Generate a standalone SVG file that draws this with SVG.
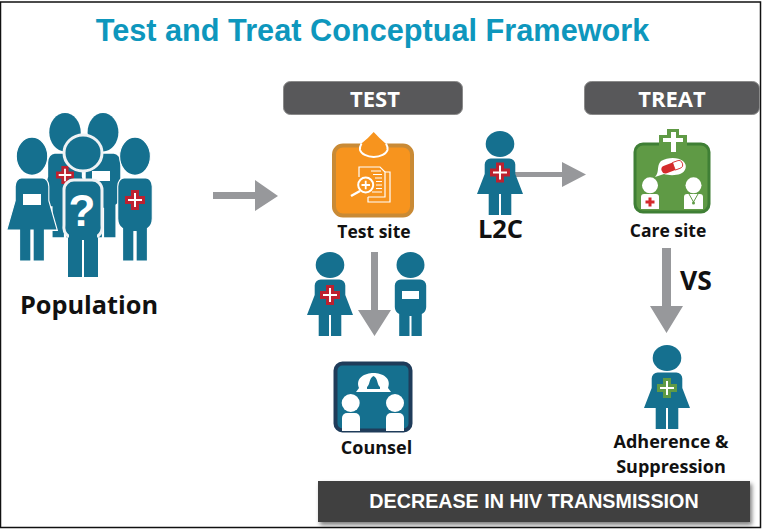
<svg xmlns="http://www.w3.org/2000/svg" xmlns:xlink="http://www.w3.org/1999/xlink" width="763" height="529" viewBox="0 0 763 529">
<style>
.lab{font-family:"Open Sans","Noto Sans",sans-serif;font-weight:700;fill:#111;text-anchor:middle}
.hd{font-family:"Open Sans","Noto Sans",sans-serif;font-weight:700;fill:#fff;text-anchor:middle;font-size:22px}
.pill{fill:#58585a;stroke:#8a8a8a;stroke-width:1}
.arr{fill:#97989b}
.pp{fill:#15708f}
.red{fill:#bd2130}
.wh{fill:#fff}
.wl{stroke:#fff;fill:none}
</style>
<defs>
<filter id="sh" x="-5%" y="-20%" width="110%" height="140%"><feDropShadow dx="2" dy="3" stdDeviation="2" flood-color="#000" flood-opacity=".5"/></filter>
<g id="woman">
<ellipse cx="0" cy="13" rx="14.300" ry="13"/>
<path d="M-15.300 33.500a6 6 0 0 1 6-6h18.600a6 6 0 0 1 6 6V43L23 63H11.300V84H1V63H-1V84H-11.300V63H-23L-15.300 43Z"/>
</g>
<g id="man">
<ellipse cx="0" cy="13" rx="14" ry="13"/>
<path d="M-15.700 33.500a6 6 0 0 1 6-6h19.400a6 6 0 0 1 6 6V55a8 8 0 0 1-4.400 7V84H1V64H-1V84H-11.300V62a8 8 0 0 1-4.400-7Z"/>
</g>
<g id="cross"><path class="red" d="M-4-10H4V-4H10V4H4V10H-4V4H-10V-4H-4Z"/><path class="wh" d="M-1-7H1V-1H7V1H1V7H-1V1H-7V-1H-1Z"/></g>
<g id="gcross"><path fill="#5f9a45" d="M-4-10H4V-4H10V4H4V10H-4V4H-10V-4H-4Z"/><path class="wh" d="M-1-7H1V-1H7V1H1V7H-1V1H-7V-1H-1Z"/></g>
</defs>
<rect x="0" y="0" width="763" height="529" fill="#fff"/>
<rect x="0.500" y="2" width="760" height="525.500" fill="#fff" stroke="#111" stroke-width="1.500"/>
<text id="title" x="372.500" y="41" font-family="'Liberation Sans',Arial,sans-serif" font-weight="700" font-size="30.700" fill="#0e97bd" text-anchor="middle">Test and Treat Conceptual Framework</text>

<g id="connectors">
<path class="arr" d="M213 192H255V180L278 196L255 211V199H213Z"/>
<path class="arr" d="M371 252H378V310H391L374.500 336L358 310H371Z"/>
<path class="arr" d="M515 172H562V162L586 174.500L562 187V177H515Z"/>
<path class="arr" d="M662 248H671V306H683L666.500 333L650 306H662Z"/>
</g>

<g id="population">
<g class="pp">
<use xlink:href="#woman" transform="translate(65 113) scale(1.1 1.48)"/>
<use xlink:href="#man" transform="translate(103 113) scale(1.1 1.48)"/>
<use xlink:href="#cross" transform="translate(65 175) scale(.9)"/>
<rect class="wh" x="92" y="171" width="18" height="10"/>
</g>
<use xlink:href="#woman" class="pp" transform="translate(32 137) scale(1.1 1.48)" stroke="#fff" stroke-width="1"/>
<use xlink:href="#man" class="pp" transform="translate(135 137) scale(1.1 1.48)" stroke="#fff" stroke-width="1"/>
<rect class="wh" x="23" y="194" width="18" height="11"/>
<use xlink:href="#cross" transform="translate(135 200)"/>
<path class="pp" d="M68 230H98V277H84V240H82V277H68Z"/>
<g class="pp" stroke="#eef2f4" stroke-width="3">
<ellipse cx="83" cy="153" rx="19" ry="18"/>
<path d="M64 190a10 10 0 0 1 10-10h18a10 10 0 0 1 10 10V225a12 12 0 0 1-4 11H68a12 12 0 0 1-4-11Z"/>
</g>
<path class="pp" d="M69 232H97V238H69Z"/>
<text x="82" y="226" font-family="'Liberation Sans',sans-serif" font-weight="700" font-size="44" fill="#fff" text-anchor="middle">?</text>
<text class="lab" x="89" y="314" font-size="25.300">Population</text>
</g>

<g id="test-header"><rect class="pill" x="283.500" y="81.500" width="179" height="33" rx="7"/><text class="hd" x="375" y="107">TEST</text></g>
<g id="treat-header"><rect class="pill" x="584.500" y="81.500" width="175" height="33" rx="7"/><text class="hd" x="672" y="107">TREAT</text></g>

<g id="test-site">
<rect x="334" y="145.500" width="78" height="70" rx="9" fill="#f7941e" stroke="#c98a35" stroke-width="4"/>
<path d="M373.700 132Q380 139 385 143Q388 147 387.500 150A14 9 0 0 1 360 150Q359.500 147 362 143Q367.500 139 373.700 132Z" fill="#f7941e"/>
<path d="M361.500 143.500Q359.500 147 360 150A14 8.500 0 0 0 387.500 150Q388 147 386 143.500" fill="none" stroke="#fff" stroke-width="2"/>
<g class="wl" stroke-width="1.200">
<path d="M359 177V167H380L385 172V197H368"/><path d="M385 172H390V202H368V197"/>
<path d="M371 171H381M373 174.500H382M375 178H382M376 181.500H382M376 185H382M376 188.500H382M372 192H382" stroke-width="1"/>
</g>
<circle cx="365.700" cy="185" r="7.500" fill="#f7941e" stroke="#fff" stroke-width="2"/>
<path d="M361.500 185H370M365.700 180.800V189.200" class="wl" stroke-width="1.800"/>
<path d="M360 191L351 196" class="wl" stroke-width="2.500"/>
<text class="lab" x="374" y="238" font-size="17.500">Test site</text>
</g>

<g id="person-positive"><use xlink:href="#woman" class="pp" transform="translate(330 252)"/><use xlink:href="#cross" transform="translate(330 295)"/></g>
<g id="person-negative"><use xlink:href="#man" class="pp" transform="translate(410.500 252)"/><rect class="wh" x="402" y="291" width="17" height="8"/></g>

<g id="counsel">
<rect x="335.500" y="363.500" width="75" height="67" rx="7" fill="#15708f" stroke="#1f3c5a" stroke-width="4"/>
<path class="wh" d="M356 392L359 388C355 378 365 373 373.500 373C382 373 392 378 388 388L391 392Z"/>
<path fill="#15708f" d="M367 389H380V387C377 385 378 378 373.500 376C369 378 370 385 367 387Z"/>
<circle class="wh" cx="350.700" cy="403" r="9"/><path class="wh" d="M342 418a5 5 0 0 1 5-5h8a5 5 0 0 1 5 5V431H342Z"/>
<circle class="wh" cx="395" cy="403" r="9"/><path class="wh" d="M386 418a5 5 0 0 1 5-5h8a5 5 0 0 1 5 5V431H386Z"/>
<text class="lab" x="376.500" y="454" font-size="18">Counsel</text>
</g>

<g id="l2c"><use xlink:href="#woman" class="pp" transform="translate(500 131)"/><use xlink:href="#cross" transform="translate(500 172.500)"/><text class="lab" x="500.500" y="238" font-size="25.500">L2C</text></g>

<g id="care-site">
<rect x="635" y="144" width="74" height="68" rx="8" fill="#5f9a45" stroke="#3f7f35" stroke-width="3"/>
<path d="M667 129H679V135H687V146H679V152H667V146H659V135H667Z" fill="#5f9a45"/>
<path d="M671 132H676V138H683V142H676V152H671V142H663V138H671Z" fill="#fff"/>
<path class="wh" d="M661 161C668 157 678 157 683 161C688 165 686 172 680 174C676 175.500 668 175.500 664 174L655 177C660 172 656 166 661 161Z"/>
<g transform="rotate(-20 672 167)"><rect x="661" y="163" width="22" height="8" rx="4" fill="#d42b2b"/><path d="M674 163H679a4 4 0 0 1 4 4v0a4 4 0 0 1-4 4H674Z" fill="#fff" stroke="#d42b2b" stroke-width=".8"/></g>
<circle class="wh" cx="650" cy="185.300" r="8"/><path class="wh" d="M641 197a3 3 0 0 1 3-3h12a3 3 0 0 1 3 3V209H641Z"/>
<circle class="wh" cx="693.500" cy="185.300" r="8"/><path class="wh" d="M684 197a3 3 0 0 1 3-3h13a3 3 0 0 1 3 3V209H684Z"/>
<path d="M650 197.500V206.500M645.500 202H654.500" stroke="#d42b2b" stroke-width="3" fill="none"/>
<path d="M689 194L693.500 202L698 194" stroke="#5f9a45" stroke-width="1" fill="none"/><circle cx="693.500" cy="203" r="1.500" fill="#5f9a45"/>
<text class="lab" x="668" y="237" font-size="17.500">Care site</text>
</g>

<text id="vs" class="lab" x="696" y="290" font-size="26.500">VS</text>

<g id="adherence"><use xlink:href="#woman" class="pp" transform="translate(667 345)"/><use xlink:href="#gcross" transform="translate(667 388)"/>
<text class="lab" x="671" y="448" font-size="18">Adherence &amp;</text><text class="lab" x="671" y="473" font-size="18">Suppression</text></g>

<g id="decrease"><rect x="318" y="481" width="432" height="41" fill="#3f3f3f" filter="url(#sh)"/>
<text x="534" y="508" font-family="'Liberation Sans',Arial,sans-serif" font-weight="700" font-size="19.700" fill="#fff" text-anchor="middle">DECREASE IN HIV TRANSMISSION</text></g>
</svg>
